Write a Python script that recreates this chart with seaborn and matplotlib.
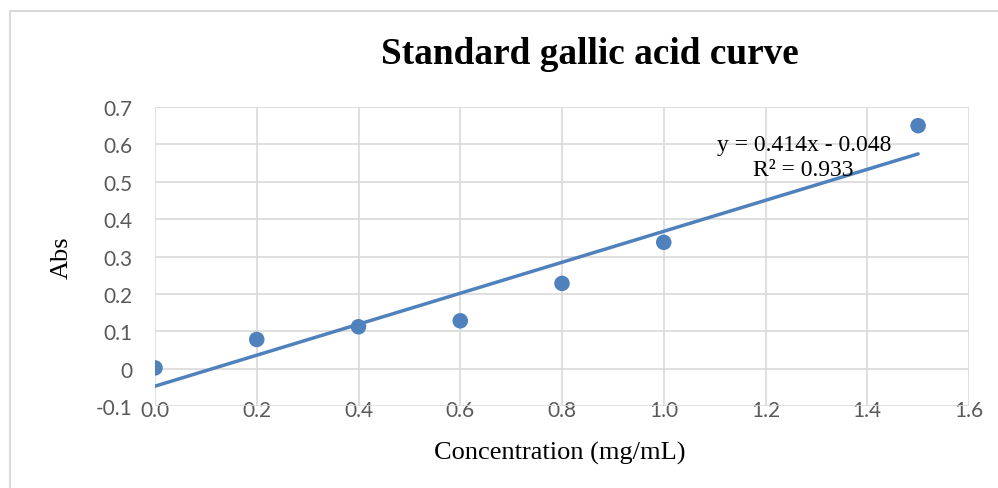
import numpy as np
import pandas as pd
import matplotlib
matplotlib.use('Agg')
import matplotlib.pyplot as plt
from matplotlib.patches import Rectangle
import seaborn as sns

# Data
concentration = [0.0, 0.2, 0.4, 0.6, 0.8, 1.0, 1.5]
absorbance = [0.002, 0.078, 0.112, 0.128, 0.228, 0.338, 0.650]
x_ticks = [0.0, 0.2, 0.4, 0.6, 0.8, 1.0, 1.2, 1.4, 1.6]
y_ticks = [-0.1, 0, 0.1, 0.2, 0.3, 0.4, 0.5, 0.6, 0.7]
y_tick_labels = ['-0.1', '0', '0.1', '0.2', '0.3', '0.4', '0.5', '0.6', '0.7']
equation_text = 'y = 0.414x - 0.048'
r2_text = 'R² = 0.933'

df = pd.DataFrame({'Concentration': concentration, 'Abs': absorbance})

sns.set_theme(style='white')
serif = ['Liberation Serif', 'DejaVu Serif']
tick_font = ['Lato', 'DejaVu Sans']
blue = '#4f81bd'

fig = plt.figure(figsize=(9.98, 4.89), dpi=100)
ax = fig.add_axes([155 / 998, 1 - 407 / 489, (969 - 155) / 998, (407 - 108) / 489])

# outer chart frame
fig.patches.append(Rectangle((10 / 998, -0.05), 1.0, 1 - 12 / 489 + 0.05,
                             transform=fig.transFigure, fill=False,
                             edgecolor='#d9d9d9', linewidth=1.5))

# scatter + least-squares trend line
sns.regplot(data=df, x='Concentration', y='Abs', ax=ax, ci=None,
            scatter_kws={'s': 125, 'color': blue, 'alpha': 1, 'edgecolor': 'none', 'zorder': 4},
            line_kws={'color': blue, 'linewidth': 2.5, 'zorder': 3})

ax.set_xlim(0, 1.6)
ax.set_ylim(-0.1, 0.7)
ax.set_xticks(x_ticks)
ax.set_xticklabels([f'{t:.1f}' for t in x_ticks], family=tick_font, fontsize=15, color='#595959')
ax.set_yticks(y_ticks)
ax.set_yticklabels(y_tick_labels, family=tick_font, fontsize=15, color='#595959')
ax.tick_params(axis='both', length=0)
ax.tick_params(axis='y', pad=16)
ax.tick_params(axis='x', pad=-4)
ax.grid(True, color='#d9d9d9', linewidth=1.2)
for s in ax.spines.values():
    s.set_visible(False)

ax.set_xlabel('')
ax.set_ylabel('')
fig.text(560 / 998, 1 - 453 / 489, 'Concentration (mg/mL)', family=serif, fontsize=19,
         ha='center', va='center', color='black')
fig.text(62 / 998, 1 - 258 / 489, 'Abs', family=serif, fontsize=19, rotation=90,
         ha='center', va='center', color='black')
fig.text(590 / 998, 1 - 55 / 489, 'Standard gallic acid curve', family=serif,
         fontsize=26.8, fontweight='bold', ha='center', va='center', color='black')

ax.text(804 / 998, 1 - 146 / 489, equation_text, transform=fig.transFigure,
        family=serif, fontsize=17, ha='center', va='center', color='black', zorder=5)
ax.text(803 / 998, 1 - 171 / 489, r2_text, transform=fig.transFigure,
        family=serif, fontsize=17, ha='center', va='center', color='black', zorder=5)

fig.savefig('out.png', dpi=100)
